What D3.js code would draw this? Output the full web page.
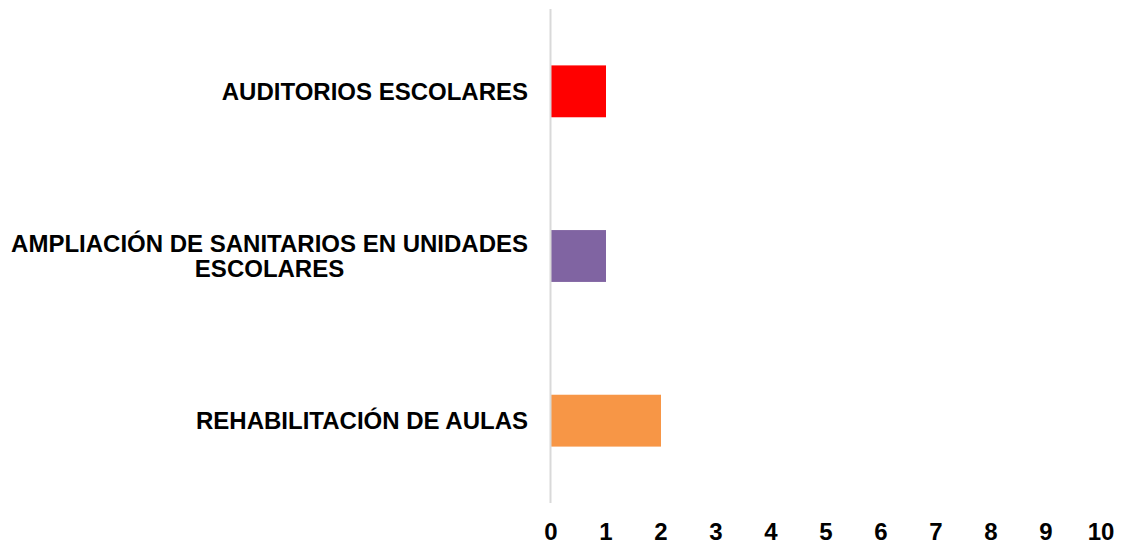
<!doctype html>
<html lang="es">
<head>
<meta charset="utf-8">
<script src="https://d3js.org/d3.v7.min.js"></script>
<style>
  body { margin: 0; background: #fff; }
  text { font-family: "Liberation Sans", Arial, sans-serif; font-weight: bold; fill: #000; }
</style>
</head>
<body>
<div id="chart"></div>
<script>
// data
var categories = ["AUDITORIOS ESCOLARES", "AMPLIACIÓN DE SANITARIOS EN UNIDADES ESCOLARES", "REHABILITACIÓN DE AULAS"];
var values = [1, 1, 2];
var colors = ["#FF0000", "#8064A2", "#F79646"];
var xTicks = [0, 1, 2, 3, 4, 5, 6, 7, 8, 9, 10];

var W = 1125, H = 548;
var margin = {top: 9, right: 24, bottom: 45, left: 551};

var svg = d3.select("#chart").append("svg")
  .attr("width", W)
  .attr("height", H);

var x = d3.scaleLinear().domain([0, 10]).range([margin.left, margin.left + 550]);
var y = d3.scaleBand().domain(categories)
  .range([margin.top, H - margin.bottom])
  .paddingInner(0.685)
  .paddingOuter(0.3425);

// bars
svg.selectAll("rect.bar")
  .data(categories)
  .enter().append("rect")
  .attr("class", "bar")
  .attr("x", x(0))
  .attr("y", function(d) { return y(d); })
  .attr("width", function(d, i) { return x(values[i]) - x(0); })
  .attr("height", y.bandwidth())
  .attr("fill", function(d, i) { return colors[i]; });

// vertical axis line
svg.append("line")
  .attr("x1", x(0) - 0.5).attr("x2", x(0) - 0.5)
  .attr("y1", margin.top).attr("y2", H - margin.bottom)
  .attr("stroke", "#D9D9D9")
  .attr("stroke-width", 2);

// x tick labels
svg.selectAll("text.xtick")
  .data(xTicks)
  .enter().append("text")
  .attr("class", "xtick")
  .attr("x", function(d) { return x(d); })
  .attr("y", 540)
  .attr("text-anchor", "middle")
  .style("font-size", "24px")
  .text(function(d) { return d; });

// category labels, wrapped
var labelRight = 528, maxW = 520, lineH = 25;
categories.forEach(function(cat) {
  var words = cat.split(" ");
  var t = svg.append("text").style("font-size", "24px");
  var lines = [], cur = [];
  words.forEach(function(w) {
    var test = cur.concat([w]).join(" ");
    t.text(test);
    if (t.node().getComputedTextLength() > maxW && cur.length) {
      lines.push(cur.join(" "));
      cur = [w];
    } else {
      cur.push(w);
    }
  });
  lines.push(cur.join(" "));
  var widths = lines.map(function(l) { t.text(l); return t.node().getComputedTextLength(); });
  var bw = d3.max(widths);
  t.text(null);
  var cy = y(cat) + y.bandwidth() / 2;
  var y0 = cy - (lines.length - 1) * lineH / 2 + 8.5;
  t.attr("text-anchor", "middle");
  lines.forEach(function(l, i) {
    t.append("tspan")
      .attr("x", labelRight - bw / 2)
      .attr("y", y0 + i * lineH)
      .text(l);
  });
});
</script>
</body>
</html>
